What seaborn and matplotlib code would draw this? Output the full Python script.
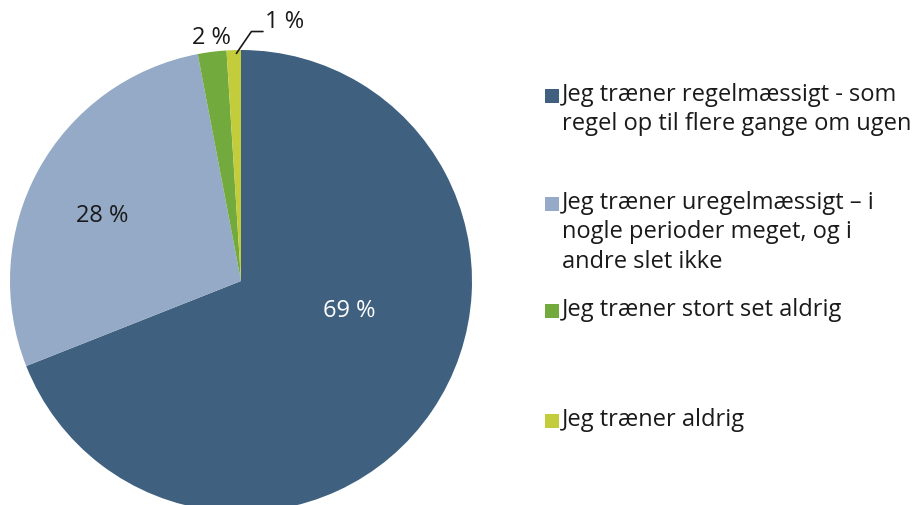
import matplotlib
matplotlib.use("Agg")
import matplotlib.pyplot as plt
import seaborn as sns
from matplotlib.patches import Rectangle

# Data
categories = [
    "Jeg træner regelmæssigt - som\nregel op til flere gange om ugen",
    "Jeg træner uregelmæssigt – i\nnogle perioder meget, og i\nandre slet ikke",
    "Jeg træner stort set aldrig",
    "Jeg træner aldrig",
]
shares = [69, 28, 2, 1]
pct_labels = ["69 %", "28 %", "2 %", "1 %"]
colors = ["#3f617f", "#94aac6", "#72aa3e", "#c3cc3a"]

sns.set_theme(style="white")
plt.rcParams["font.family"] = ["Open Sans", "DejaVu Sans"]

W, H = 915, 505
fig = plt.figure(figsize=(W / 100, H / 100), dpi=100)

# pie: center (241, 281) px, radius 231 px
cx, cy, r = 241, 281, 231
ax = fig.add_axes([(cx - r) / W, (H - cy - r) / H, 2 * r / W, 2 * r / H])
wedges, _ = ax.pie(shares, colors=colors, startangle=90, counterclock=False,
                   radius=1, wedgeprops=dict(linewidth=0))
ax.set_xlim(-1, 1)
ax.set_ylim(-1, 1)
ax.set_aspect("equal")
ax.axis("off")

# percentage labels
fs = 17
ax.text(0.47, -0.13, pct_labels[0], color="white", fontsize=fs, ha="center", va="center")
ax.text(-0.60, 0.28, pct_labels[1], color="#1a1a1a", fontsize=fs, ha="center", va="center")
ax.text(-0.13, 1.05, pct_labels[2], color="#1a1a1a", fontsize=fs, ha="center", va="center",
        clip_on=False)
ax.text(0.19, 1.12, pct_labels[3], color="#1a1a1a", fontsize=fs, ha="center", va="center",
        clip_on=False)
ax.plot([-0.02, 0.045, 0.095], [0.985, 1.08, 1.08], color="#1a1a1a", lw=1.2, clip_on=False)

# legend drawn by hand (first-line baselines in px)
base_y = [101, 209, 316, 426]
for lab, col, by in zip(categories, colors, base_y):
    fig.add_artist(Rectangle((545 / W, (H - by - 2) / H), 14 / W, 14 / H,
                             transform=fig.transFigure, color=col, lw=0))
    fig.text(562 / W, (H - by + 18) / H, lab, fontsize=17, color="#1a1a1a",
             ha="left", va="top", linespacing=1.3)

fig.savefig("out.png", dpi=100)
